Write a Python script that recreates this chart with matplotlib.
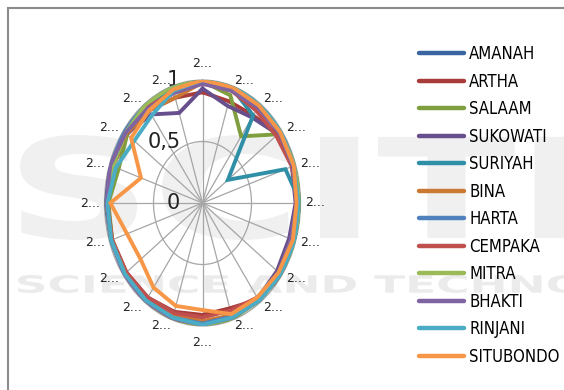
"""Radar chart of twenty yearly scores for twelve units."""

import numpy as np
import matplotlib

matplotlib.use("Agg")
import matplotlib.pyplot as plt
from matplotlib.lines import Line2D
from matplotlib.patches import Rectangle, PathPatch
from matplotlib.textpath import TextPath
from matplotlib.font_manager import FontProperties
from matplotlib import transforms

spoke_labels = ["2..."] * 20
r_ticks = [0, 0.5, 1]
r_tick_labels = ["0", "0,5", "1"]

names = ["AMANAH", "ARTHA", "SALAAM", "SUKOWATI", "SURIYAH", "BINA",
         "HARTA", "CEMPAKA", "MITRA", "BHAKTI", "RINJANI", "SITUBONDO"]

amanah = [1.0, 0.98, 0.97, 0.97, 0.98, 1.0, 0.99, 0.98, 0.97, 0.97,
          0.98, 0.97, 0.97, 0.98, 0.98, 0.99, 0.98, 0.97, 0.97, 0.98]
artha = [0.9, 0.87, 0.88, 0.95, 0.97, 0.98, 0.97, 1.0, 0.97, 0.9,
         0.91, 0.93, 0.95, 0.96, 0.97, 0.97, 0.96, 0.95, 0.93, 0.9]
salaam = [0.99, 0.92, 0.67, 0.95, 1.0, 1.0, 1.0, 0.99, 0.98, 0.99,
          1.0, 0.99, 0.98, 0.97, 0.97, 0.96, 0.9, 0.95, 0.98, 0.99]
sukowati = [0.93, 0.83, 0.86, 0.95, 0.96, 0.95, 0.93, 0.94, 0.96, 0.97,
            0.97, 0.98, 0.98, 0.98, 0.98, 0.98, 1.0, 0.96, 0.89, 0.77]
suriyah = [1.0, 0.98, 0.88, 0.32, 0.89, 1.0, 0.99, 0.98, 0.98, 0.98,
           0.98, 0.98, 0.98, 0.97, 0.98, 0.98, 0.97, 0.97, 0.98, 0.99]
bina = [0.98, 0.97, 0.97, 0.97, 0.97, 0.98, 0.97, 0.97, 0.97, 0.96,
        0.96, 0.96, 0.97, 0.97, 0.97, 0.98, 0.97, 0.96, 0.93, 0.9]
harta = [1.0, 1.0, 0.99, 0.99, 1.0, 0.99, 0.98, 0.98, 0.98, 0.97,
         0.98, 0.98, 0.98, 0.98, 0.98, 0.98, 0.99, 0.99, 0.99, 1.0]
cempaka = [0.97, 0.96, 0.93, 0.93, 0.96, 0.97, 0.96, 0.97, 0.95, 0.92,
           0.93, 0.94, 0.95, 0.96, 0.97, 0.97, 0.97, 0.97, 0.96, 0.95]
mitra = [1.0, 1.0, 0.99, 0.98, 1.0, 1.0, 1.0, 0.98, 0.97, 0.98,
         1.0, 1.0, 0.99, 0.98, 0.98, 0.98, 0.96, 0.97, 0.99, 1.0]
bhakti = [0.97, 0.96, 0.96, 0.97, 0.97, 0.96, 0.95, 0.96, 0.97, 0.98,
          0.99, 0.99, 0.99, 0.99, 0.98, 0.98, 0.99, 0.97, 0.95, 0.94]
rinjani = [1.0, 1.0, 1.0, 0.99, 0.98, 0.98, 0.99, 0.99, 0.98, 0.98,
           0.99, 0.98, 0.98, 0.98, 0.98, 0.97, 0.93, 0.86, 0.88, 0.96]
situbondo = [1.0, 0.99, 0.98, 0.98, 0.98, 0.96, 0.97, 0.96, 0.95, 0.95,
             0.87, 0.88, 0.85, 0.78, 0.81, 0.94, 0.66, 0.9, 0.93, 0.97]

series = [amanah, artha, salaam, sukowati, suriyah, bina,
          harta, cempaka, mitra, bhakti, rinjani, situbondo]
colors = ["#3a65a0", "#a83c3a", "#7f9e3e", "#664f8c", "#2f8fa6", "#cb7a34",
          "#4f81bd", "#c0504d", "#9bbb59", "#8064a2", "#4bacc6", "#f79646"]

W, H = 564, 390
fig = plt.figure(figsize=(W / 100, H / 100), dpi=100)
fig.patch.set_facecolor("white")


def stretched_text(s, x0, x1, top, bottom, color):
    """Bold text outline squeezed into a pixel box (y measured from the top)."""
    path = TextPath((0, 0), s, size=50, prop=FontProperties(family="DejaVu Sans", weight="bold"))
    ext = path.get_extents()
    tr = (transforms.Affine2D()
          .translate(-ext.x0, -ext.y0)
          .scale((x1 - x0) / ext.width, (bottom - top) / ext.height)
          .translate(x0, H - bottom))
    fig.add_artist(PathPatch(path, transform=tr + transforms.IdentityTransform(),
                             facecolor=color, edgecolor="none", zorder=-5))


# faint publisher mark in the background
stretched_text("SCITE", 20, 640, 135, 240, "#f0f0f0")
stretched_text("SCIENCE AND TECHNOLOGY", 18, 720, 275, 293, "#ebebeb")

# chart border
fig.add_artist(Rectangle((7.5 / W, -0.1), 1.0, 1.1 - 8 / H,
                         transform=fig.transFigure, fill=False,
                         edgecolor="#8c8c8c", linewidth=1.5, zorder=1))

ax = fig.add_axes([104.5 / W, 64 / H, 196 / W, 246 / H], projection="polar")
ax.set_aspect("auto")
ax.set_facecolor("none")
ax.set_theta_zero_location("N")
ax.set_theta_direction(-1)

n = len(spoke_labels)
angles = np.arange(n) * 360.0 / n
theta = np.deg2rad(np.append(angles, angles[0]))

for name, vals, c in zip(names, series, colors):
    ax.plot(theta, np.append(vals, vals[0]), color=c, linewidth=2.8,
            solid_joinstyle="miter", label=name, zorder=3)

ax.set_ylim(0, 1)
ax.set_rgrids([0.5, 1.0], labels=["", ""])
ax.set_thetagrids(angles, [""] * n)
ax.grid(True, color="#a6a6a6", linewidth=0.9)
ax.spines["polar"].set_color("#a6a6a6")
ax.spines["polar"].set_linewidth(0.9)

# category labels just outside the rim
for a, lab in zip(angles, spoke_labels):
    s, c = np.sin(np.deg2rad(a)), np.cos(np.deg2rad(a))
    if abs(s) < 0.1:
        ax.text(np.deg2rad(a), 1.08, lab, ha="center",
                va="bottom" if c > 0 else "top", fontsize=9,
                color="#222222", clip_on=False, zorder=4)
    else:
        ax.text(np.deg2rad(a), 1.05, lab, ha="left" if s > 0 else "right",
                va="center", fontsize=9, color="#222222", clip_on=False, zorder=4)

# axis values to the left of the vertical spoke
shift = transforms.offset_copy(ax.transData, fig=fig, x=-16, y=0, units="points")
for r, lab in zip(r_ticks, r_tick_labels):
    ax.text(0, r, lab, transform=shift, ha="right", va="center",
            fontsize=15, color="#222222", zorder=2)

handles = [Line2D([], [], color=c, linewidth=3.2, solid_capstyle="round")
           for c in colors]
fig.legend(handles, names, loc="upper left", bbox_to_anchor=(0.743, 0.884),
           frameon=False, handlelength=2.7, handletextpad=0.3,
           labelspacing=0.57, borderpad=0, borderaxespad=0,
           prop={"family": "DejaVu Sans", "stretch": "condensed", "size": 12})

fig.savefig("out.png", dpi=100)
